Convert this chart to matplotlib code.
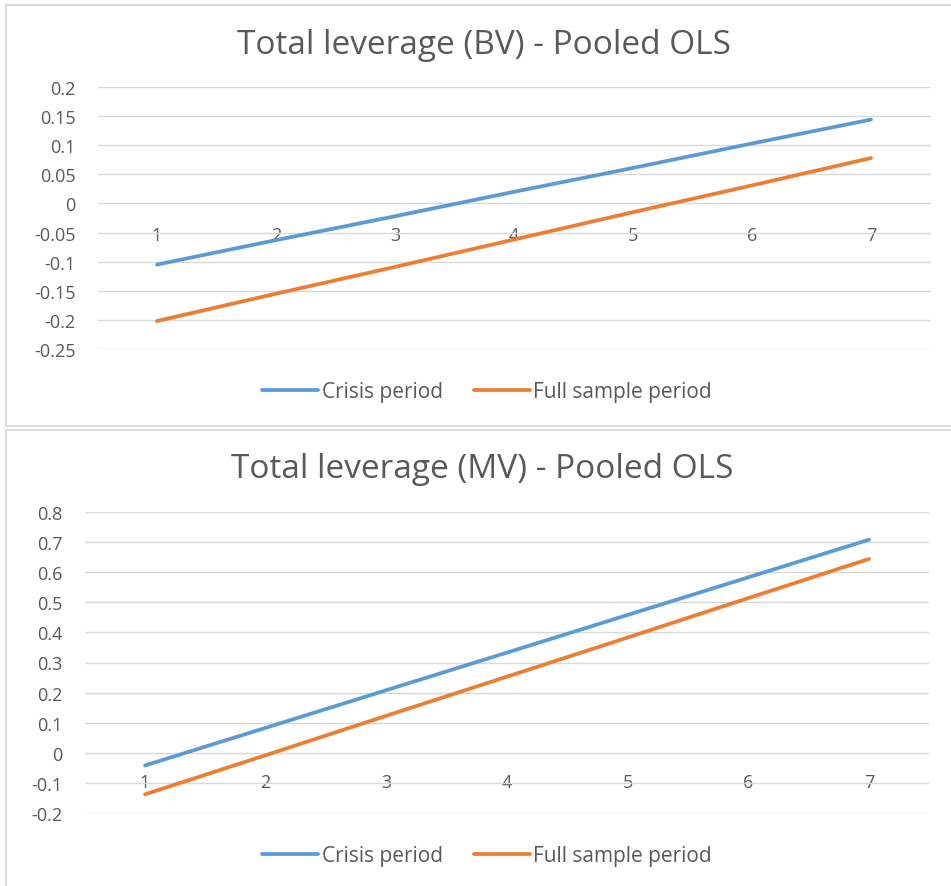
import matplotlib
matplotlib.use("Agg")
import matplotlib.pyplot as plt
from matplotlib.lines import Line2D

plt.rcParams['font.family'] = ['Open Sans', 'DejaVu Sans']

periods = [1, 2, 3, 4, 5, 6, 7]
bv_crisis = [-0.105, -0.063, -0.022, 0.020, 0.061, 0.103, 0.144]
bv_full = [-0.202, -0.155, -0.109, -0.062, -0.015, 0.031, 0.078]
mv_crisis = [-0.042, 0.083, 0.208, 0.333, 0.458, 0.583, 0.708]
mv_full = [-0.138, -0.008, 0.123, 0.253, 0.383, 0.514, 0.644]

bv_yticks = [-0.25, -0.2, -0.15, -0.1, -0.05, 0, 0.05, 0.1, 0.15, 0.2]
bv_ylabels = ['-0.25', '-0.2', '-0.15', '-0.1', '-0.05', '0', '0.05', '0.1', '0.15', '0.2']
mv_yticks = [-0.2, -0.1, 0, 0.1, 0.2, 0.3, 0.4, 0.5, 0.6, 0.7, 0.8]
mv_ylabels = ['-0.2', '-0.1', '0', '0.1', '0.2', '0.3', '0.4', '0.5', '0.6', '0.7', '0.8']

titles = ['Total leverage (BV) - Pooled OLS', 'Total leverage (MV) - Pooled OLS']
series_names = ['Crisis period', 'Full sample period']

BLUE = '#5B9BD5'
ORANGE = '#ED7D31'
GRID = '#D9D9D9'
TXT = '#595959'

W, H = 951, 887
fig = plt.figure(figsize=(W / 100, H / 100), dpi=100)

def px_axes(x0, x1, ytop, ybot):
    return fig.add_axes([x0 / W, 1 - ybot / H, (x1 - x0) / W, (ybot - ytop) / H])

# panel borders
bc = '#DCDCDC'
for (xs, ys) in [([6, 6], [6, 427]), ([6, 951], [6, 6]), ([6, 951], [427, 427]),
                 ([6, 951], [431, 431]), ([6, 6], [431, 887])]:
    fig.add_artist(Line2D([x / W for x in xs], [1 - y / H for y in ys], color=bc, lw=1.6))

configs = [
    dict(ax=(97.5, 930.5, 88, 350), ylim=(-0.25, 0.2), yt=bv_yticks, yl=bv_ylabels,
         c=bv_crisis, f=bv_full, title_y=45, title_x=484, leg_y=393, xpad=16),
    dict(ax=(84.7, 929.3, 513, 814), ylim=(-0.2, 0.8), yt=mv_yticks, yl=mv_ylabels,
         c=mv_crisis, f=mv_full, title_y=470, title_x=482, leg_y=857, xpad=14.5),
]

for i, cfg in enumerate(configs):
    ax = px_axes(*cfg['ax'])
    l1, = ax.plot(periods, cfg['c'], color=BLUE, lw=2.7, solid_capstyle='round', zorder=3)
    l2, = ax.plot(periods, cfg['f'], color=ORANGE, lw=2.7, solid_capstyle='round', zorder=3)
    ax.set_xlim(0.5, 7.5)
    ax.set_ylim(*cfg['ylim'])
    ax.set_yticks(cfg['yt'])
    ax.set_yticklabels(cfg['yl'])
    ax.set_xticks(periods)
    ax.set_xticklabels([str(p) for p in periods])
    ax.grid(axis='y', color=GRID, lw=1)
    ax.set_axisbelow(True)
    for s in ['top', 'right', 'left']:
        ax.spines[s].set_visible(False)
    ax.spines['bottom'].set_position(('data', 0))
    ax.spines['bottom'].set_visible(False)
    ax.tick_params(axis='y', length=0, pad=16, labelsize=13, labelcolor=TXT)
    ax.tick_params(axis='x', length=0, pad=cfg['xpad'], labelsize=13, labelcolor=TXT)
    ax.set_facecolor('none')
    fig.text(cfg['title_x'] / W, 1 - cfg['title_y'] / H, titles[i], ha='center', va='center',
             fontsize=24, color=TXT)
    fig.legend([l1, l2], series_names, loc='center', bbox_to_anchor=(487 / W, 1 - cfg['leg_y'] / H),
               ncol=2, frameon=False, fontsize=15, labelcolor=TXT, handlelength=2.7,
               handletextpad=0.15, columnspacing=1.5)

fig.savefig('out.png', dpi=100)
